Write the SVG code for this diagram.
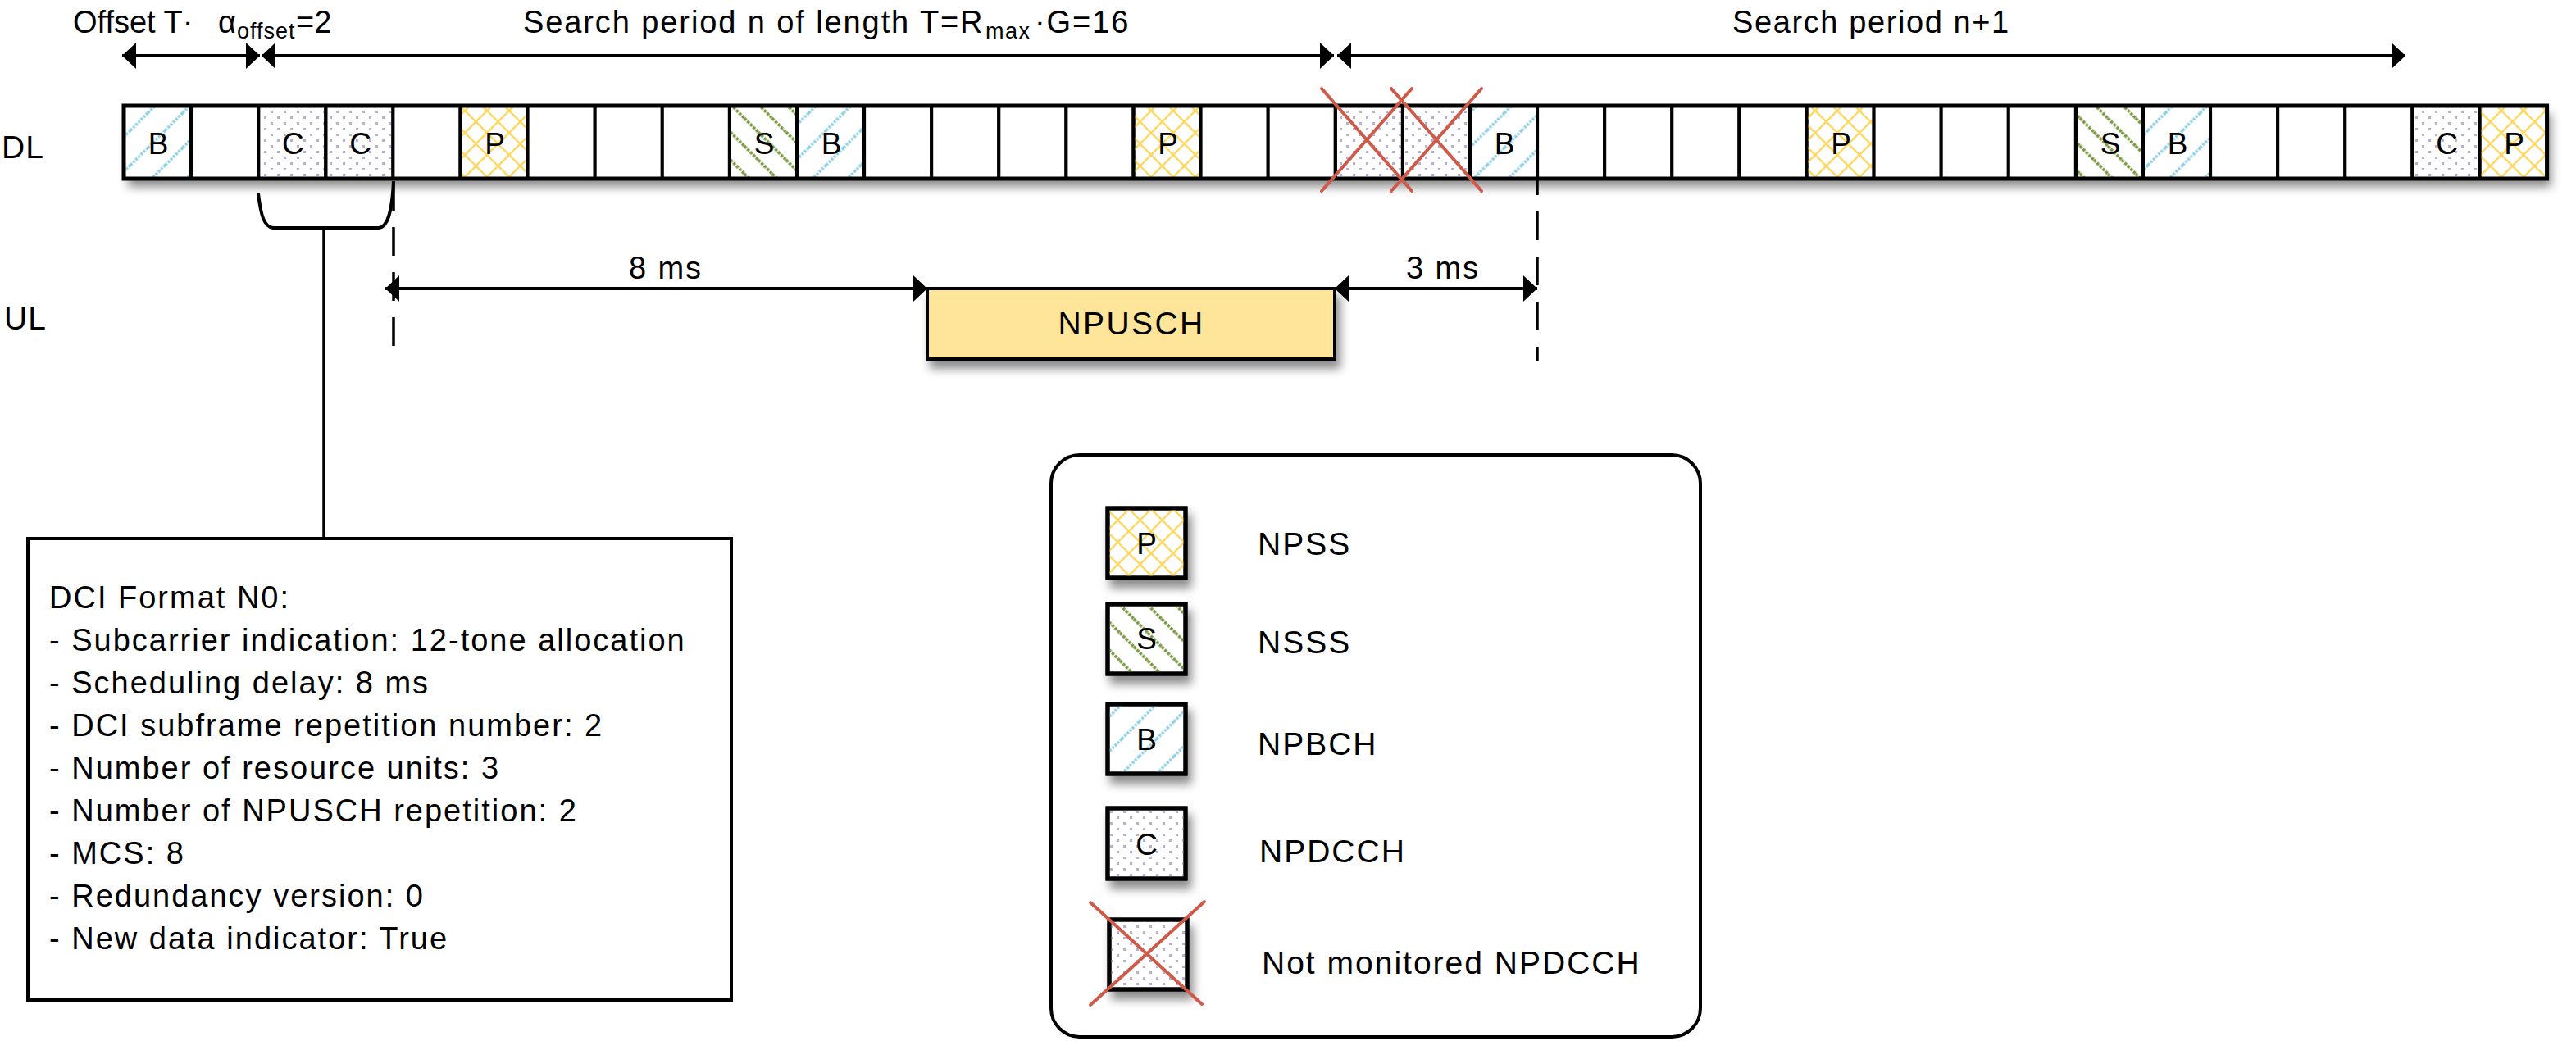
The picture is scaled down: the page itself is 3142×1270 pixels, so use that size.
<svg xmlns="http://www.w3.org/2000/svg" width="3142" height="1270" viewBox="0 0 3142 1270">
<defs>
<style>
text { font-family: "Liberation Sans", Arial, Helvetica, sans-serif; font-size: 38px; fill: #000; letter-spacing: 1.9px; }
.c { text-anchor: middle; }
.cl { font-size: 37px; letter-spacing: 0; }
.cell { fill: #fff; stroke: #000; stroke-width: 4; }
.cellP { fill: url(#pP); stroke: #000; stroke-width: 4; }
.cellS { fill: url(#pS); stroke: #000; stroke-width: 4; }
.cellB { fill: url(#pB); stroke: #000; stroke-width: 4; }
.cellC { fill: url(#pC); stroke: #000; stroke-width: 4; }
.leg { stroke: #000; stroke-width: 5; }
.legt { font-size: 39px; letter-spacing: 2px; }
.ln { stroke: #000; stroke-width: 4; fill: none; }
.thin { stroke: #000; stroke-width: 3.5; fill: none; }
.dash { stroke: #000; stroke-width: 3.5; stroke-dasharray: 35 20; fill: none; }
.cross { stroke: #CF5A4A; stroke-width: 4; stroke-linecap: round; }
.arr { stroke: #000; stroke-width: 4; fill: none; marker-start: url(#ah); marker-end: url(#ah); }
.dci { letter-spacing: 2px; }
</style>
<marker id="ah" markerUnits="userSpaceOnUse" markerWidth="18" markerHeight="34" refX="17" refY="17" orient="auto-start-reverse">
<path d="M0,1 L17,17 L0,33 z" fill="#000"/>
</marker>
<pattern id="pP" patternUnits="userSpaceOnUse" width="27" height="27">
<path d="M-2,-2 L29,29 M29,-2 L-2,29" stroke="#FFD966" stroke-width="2.5" fill="none"/>
</pattern>
<pattern id="pB" patternUnits="userSpaceOnUse" width="30" height="30" patternTransform="rotate(45)">
<line x1="15" y1="0" x2="15" y2="30" stroke="#8FCFE4" stroke-width="3.5" stroke-dasharray="3 1.5"/>
</pattern>
<pattern id="pS" patternUnits="userSpaceOnUse" width="24" height="24" patternTransform="rotate(-45)">
<line x1="12" y1="0" x2="12" y2="24" stroke="#77963E" stroke-width="3.5" stroke-dasharray="3.5 1.5"/>
</pattern>
<pattern id="pC" patternUnits="userSpaceOnUse" width="16" height="14">
<rect x="2" y="2" width="3" height="3" fill="#B8AFD9"/>
<rect x="10" y="9" width="3" height="3" fill="#B8AFD9"/>
</pattern>
<filter id="sh" x="-10%" y="-20%" width="130%" height="170%">
<feDropShadow dx="5" dy="10" stdDeviation="6" flood-color="#000" flood-opacity="0.45"/>
</filter>
</defs>

<rect x="0" y="0" width="3142" height="1270" fill="#fff"/>

<!-- side labels -->
<text x="2" y="193" style="font-size:39px;letter-spacing:1px">DL</text>
<text x="5" y="402" style="font-size:39px;letter-spacing:1px">UL</text>

<!-- top labels -->
<text x="89" y="40" style="letter-spacing:0">Offset T·<tspan x="266">α</tspan><tspan x="289" dy="7" style="font-size:27px;letter-spacing:1px">offset</tspan><tspan x="361" dy="-7">=2</tspan></text>
<text x="638" y="40">Search period n of length T=R<tspan x="1202" dy="7" style="font-size:27px;letter-spacing:1.5px">max</tspan><tspan x="1262" dy="-7">·G=16</tspan></text>
<text x="2113" y="40" style="letter-spacing:1.6px">Search period n+1</text>

<!-- DL subframe bar -->
<g id="dl-bar">
<rect x="151" y="129" width="2955.6" height="89" fill="#fff" filter="url(#sh)"/>
<g id="sf-0"><rect class="cellB" x="151" y="129" width="82.1" height="89"/><text class="c cl" x="193.2" y="188">B</text></g>
<g id="sf-1"><rect class="cell" x="233.1" y="129" width="82.1" height="89"/></g>
<g id="sf-2"><rect class="cellC" x="315.2" y="129" width="82.1" height="89"/><text class="c cl" x="357.4" y="188">C</text></g>
<g id="sf-3"><rect class="cellC" x="397.3" y="129" width="82.1" height="89"/><text class="c cl" x="439.5" y="188">C</text></g>
<g id="sf-4"><rect class="cell" x="479.4" y="129" width="82.1" height="89"/></g>
<g id="sf-5"><rect class="cellP" x="561.5" y="129" width="82.1" height="89"/><text class="c cl" x="603.7" y="188">P</text></g>
<g id="sf-6"><rect class="cell" x="643.6" y="129" width="82.1" height="89"/></g>
<g id="sf-7"><rect class="cell" x="725.7" y="129" width="82.1" height="89"/></g>
<g id="sf-8"><rect class="cell" x="807.8" y="129" width="82.1" height="89"/></g>
<g id="sf-9"><rect class="cellS" x="889.9" y="129" width="82.1" height="89"/><text class="c cl" x="932.1" y="188">S</text></g>
<g id="sf-10"><rect class="cellB" x="972" y="129" width="82.1" height="89"/><text class="c cl" x="1014.2" y="188">B</text></g>
<g id="sf-11"><rect class="cell" x="1054.1" y="129" width="82.1" height="89"/></g>
<g id="sf-12"><rect class="cell" x="1136.2" y="129" width="82.1" height="89"/></g>
<g id="sf-13"><rect class="cell" x="1218.3" y="129" width="82.1" height="89"/></g>
<g id="sf-14"><rect class="cell" x="1300.4" y="129" width="82.1" height="89"/></g>
<g id="sf-15"><rect class="cellP" x="1382.5" y="129" width="82.1" height="89"/><text class="c cl" x="1424.7" y="188">P</text></g>
<g id="sf-16"><rect class="cell" x="1464.6" y="129" width="82.1" height="89"/></g>
<g id="sf-17"><rect class="cell" x="1546.7" y="129" width="82.1" height="89"/></g>
<g id="sf-18"><rect class="cellC" x="1628.8" y="129" width="82.1" height="89"/></g>
<g id="sf-19"><rect class="cellC" x="1710.9" y="129" width="82.1" height="89"/></g>
<g id="sf-20"><rect class="cellB" x="1793" y="129" width="82.1" height="89"/><text class="c cl" x="1835.2" y="188">B</text></g>
<g id="sf-21"><rect class="cell" x="1875.1" y="129" width="82.1" height="89"/></g>
<g id="sf-22"><rect class="cell" x="1957.2" y="129" width="82.1" height="89"/></g>
<g id="sf-23"><rect class="cell" x="2039.3" y="129" width="82.1" height="89"/></g>
<g id="sf-24"><rect class="cell" x="2121.4" y="129" width="82.1" height="89"/></g>
<g id="sf-25"><rect class="cellP" x="2203.5" y="129" width="82.1" height="89"/><text class="c cl" x="2245.7" y="188">P</text></g>
<g id="sf-26"><rect class="cell" x="2285.6" y="129" width="82.1" height="89"/></g>
<g id="sf-27"><rect class="cell" x="2367.7" y="129" width="82.1" height="89"/></g>
<g id="sf-28"><rect class="cell" x="2449.8" y="129" width="82.1" height="89"/></g>
<g id="sf-29"><rect class="cellS" x="2531.9" y="129" width="82.1" height="89"/><text class="c cl" x="2574.1" y="188">S</text></g>
<g id="sf-30"><rect class="cellB" x="2614" y="129" width="82.1" height="89"/><text class="c cl" x="2656.2" y="188">B</text></g>
<g id="sf-31"><rect class="cell" x="2696.1" y="129" width="82.1" height="89"/></g>
<g id="sf-32"><rect class="cell" x="2778.2" y="129" width="82.1" height="89"/></g>
<g id="sf-33"><rect class="cell" x="2860.3" y="129" width="82.1" height="89"/></g>
<g id="sf-34"><rect class="cellC" x="2942.4" y="129" width="82.1" height="89"/><text class="c cl" x="2984.6" y="188">C</text></g>
<g id="sf-35"><rect class="cellP" x="3024.5" y="129" width="82.1" height="89"/><text class="c cl" x="3066.7" y="188">P</text></g>
<rect x="151" y="129" width="2955.6" height="89" fill="none" stroke="#000" stroke-width="5"/>
</g>

<!-- not monitored marks -->
<g id="not-monitored">
<line class="cross" x1="1612" y1="108" x2="1722" y2="233"/>
<line class="cross" x1="1722" y1="108" x2="1612" y2="233"/>
<line class="cross" x1="1697" y1="108" x2="1807" y2="233"/>
<line class="cross" x1="1807" y1="108" x2="1697" y2="233"/>
</g>

<!-- UL NPUSCH -->
<g id="npusch">
<rect x="1131" y="352" width="497" height="86" fill="#FFE599" stroke="#000" stroke-width="4" filter="url(#sh)"/>
<text class="c" x="1380" y="408" style="font-size:39px;letter-spacing:2.4px">NPUSCH</text>
</g>

<!-- DCI box -->
<g id="dci">
<rect x="34" y="657" width="858" height="563" fill="#fff" stroke="#000" stroke-width="4"/>
<text class="dci" x="60" y="742">DCI Format N0:</text>
<text class="dci" x="60" y="794">- Subcarrier indication: 12-tone allocation</text>
<text class="dci" x="60" y="846">- Scheduling delay: 8 ms</text>
<text class="dci" x="60" y="898">- DCI subframe repetition number: 2</text>
<text class="dci" x="60" y="950">- Number of resource units: 3</text>
<text class="dci" x="60" y="1002">- Number of NPUSCH repetition: 2</text>
<text class="dci" x="60" y="1054">- MCS: 8</text>
<text class="dci" x="60" y="1106">- Redundancy version: 0</text>
<text class="dci" x="60" y="1158">- New data indicator: True</text>
</g>

<!-- Legend -->
<g id="legend">
<rect x="1282" y="555" width="792" height="710" rx="35" ry="35" fill="#fff" stroke="#000" stroke-width="4"/>
<g id="legend-npss">
<rect class="leg" x="1351" y="620" width="95" height="85" fill="#fff" filter="url(#sh)"/>
<rect class="leg" x="1351" y="620" width="95" height="85" fill="url(#pP)"/>
<text class="c cl" x="1398.5" y="676">P</text>
<text class="legt" x="1534" y="677">NPSS</text>
</g>
<g id="legend-nsss">
<rect class="leg" x="1351" y="737" width="95" height="85" fill="#fff" filter="url(#sh)"/>
<rect class="leg" x="1351" y="737" width="95" height="85" fill="url(#pS)"/>
<text class="c cl" x="1398.5" y="792">S</text>
<text class="legt" x="1534" y="797">NSSS</text>
</g>
<g id="legend-npbch">
<rect class="leg" x="1351" y="859" width="95" height="85" fill="#fff" filter="url(#sh)"/>
<rect class="leg" x="1351" y="859" width="95" height="85" fill="url(#pB)"/>
<text class="c cl" x="1398.5" y="915">B</text>
<text class="legt" x="1534" y="921">NPBCH</text>
</g>
<g id="legend-npdcch">
<rect class="leg" x="1351" y="986" width="95" height="86" fill="#fff" filter="url(#sh)"/>
<rect class="leg" x="1351" y="986" width="95" height="86" fill="url(#pC)"/>
<text class="c cl" x="1398.5" y="1043">C</text>
<text class="legt" x="1536" y="1052">NPDCCH</text>
</g>
<g id="legend-not-monitored">
<rect class="leg" x="1353" y="1122" width="95" height="85" fill="#fff" filter="url(#sh)"/>
<rect class="leg" x="1353" y="1122" width="95" height="85" fill="url(#pC)"/>
<line class="cross" x1="1330" y1="1101" x2="1466" y2="1225"/>
<line class="cross" x1="1469" y1="1100" x2="1330" y2="1226"/>
<text class="legt" x="1539" y="1188">Not monitored NPDCCH</text>
</g>
</g>

<!-- connectors -->
<g id="connectors">
<line class="arr" x1="149" y1="68" x2="317" y2="68"/>
<line class="arr" x1="319" y1="68" x2="1627" y2="68"/>
<line class="arr" x1="1631" y1="68" x2="2934" y2="68"/>
<line class="arr" x1="470" y1="352" x2="1131" y2="352"/>
<line class="arr" x1="1628" y1="352" x2="1875" y2="352"/>
<path class="ln" d="M315,236 C318,262 322,277 333,278 L462,278 C472,277 478,262 480,221"/>
<line class="thin" x1="395" y1="278" x2="395" y2="657"/>
<line class="dash" x1="480" y1="222" x2="480" y2="423"/>
<line class="dash" x1="1875" y1="220" x2="1875" y2="440" stroke-dashoffset="17"/>
</g>

<!-- UL delay labels -->
<text class="c" x="812" y="340">8 ms</text>
<text class="c" x="1760" y="340">3 ms</text>
</svg>
